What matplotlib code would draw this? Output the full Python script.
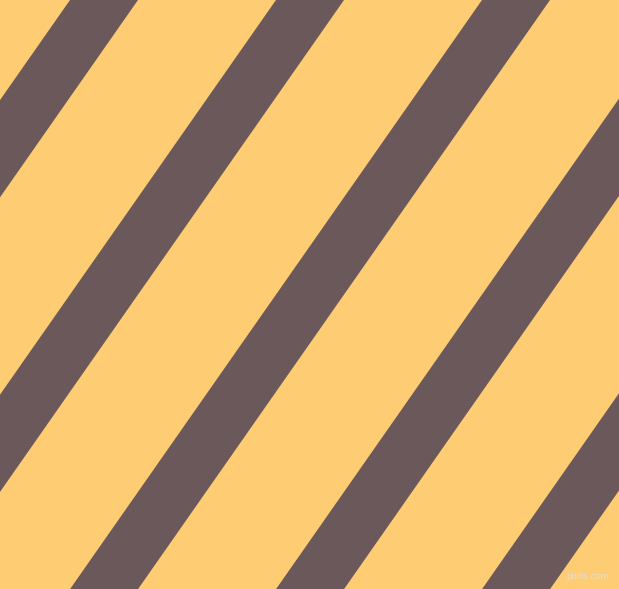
import matplotlib
matplotlib.use("Agg")
import matplotlib.pyplot as plt

# stripe geometry (pixel units, y down)
W, H = 619, 589
STRIPE_TOP_X = [70, 276, 482, 688, 894]   # left edge of each dark stripe at y=0
STRIPE_WIDTH = 68                          # horizontal width of a stripe
SLOPE = 1.43                               # dy/dx of the stripe edges (~55 deg)
BG = "#fecc72"
STRIPE = "#6b585a"

fig = plt.figure(figsize=(W / 100, H / 100), dpi=100)
ax = fig.add_axes([0, 0, 1, 1])
ax.set_facecolor(BG)
fig.patch.set_facecolor(BG)

for x0 in STRIPE_TOP_X:
    dx = H / SLOPE
    xs = [x0, x0 + STRIPE_WIDTH, x0 + STRIPE_WIDTH - dx, x0 - dx]
    ys = [0, 0, H, H]
    ax.fill(xs, ys, color=STRIPE, linewidth=0, antialiased=True)

ax.text(W - 10, H - 8, "pixlis.com", ha="right", va="bottom",
        fontsize=6, color="#e8e0d0", alpha=0.9)

ax.set_xlim(0, W)
ax.set_ylim(H, 0)
ax.axis("off")
fig.savefig("out.png", dpi=100, facecolor=BG)
